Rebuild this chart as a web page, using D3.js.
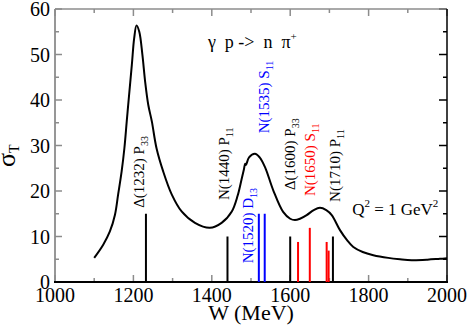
<!DOCTYPE html>
<html><head><meta charset="utf-8"><script src="https://cdn.jsdelivr.net/npm/d3@7"></script></head>
<body style="margin:0">
<script>
// total cross section curve, W in MeV and sigma_T
var curveW = [1100, 1123, 1140, 1153, 1161, 1170, 1177, 1183, 1189, 1196, 1202, 1208, 1215, 1223, 1230,
  1238, 1247, 1259, 1276, 1298, 1323, 1357, 1395, 1425, 1451, 1466, 1476, 1482, 1485, 1487, 1495,
  1510, 1522, 1536, 1557, 1582, 1600, 1612, 1625, 1642, 1660, 1676, 1692, 1706, 1727, 1745, 1761,
  1785, 1812, 1850, 1880, 1910, 1950, 1982, 2000];
var curveS = [5.3, 8.2, 11.1, 14.8, 19.2, 24.3, 29.4, 35.3, 41.1, 47.7, 53.6, 56.4, 55.0, 49.9, 44.0,
  38.9, 35.3, 29.4, 24.3, 19.2, 15.5, 13.0, 11.9, 13.0, 15.5, 19.0, 22.6, 24.8, 26.0, 25.7, 27.4,
  28.2, 27.4, 25.2, 20.1, 15.4, 13.9, 13.6, 13.9, 14.7, 15.8, 16.3, 15.8, 14.7, 11.4, 9.2, 7.7,
  6.6, 5.9, 5.3, 5.0, 4.8, 4.9, 5.1, 5.2];

// resonance strength bars
var barW = [1232, 1440, 1520, 1535, 1600, 1620, 1650, 1693, 1698, 1709];
var barH = [15, 10, 15, 15, 10, 8.8, 11.9, 8.8, 6.9, 10];
var barC = ["black", "black", "blue", "blue", "black", "red", "red", "red", "red", "black"];

// rotated resonance labels: name, subscript, anchor W, anchor sigma
var labName = ["\u0394(1232) P", "N(1440) P", "N(1520) D", "N(1535) S", "\u0394(1600) P", "N(1650) S", "N(1710) P"];
var labSub = ["33", "11", "13", "11", "33", "11", "11"];
var labW = [1228, 1444, 1505, 1546, 1612, 1663, 1727];
var labS = [16.3, 18, 4.1, 32.7, 20.2, 18.9, 17.6];
var labC = ["black", "black", "blue", "blue", "black", "red", "black"];

var xTicks = [1000, 1200, 1400, 1600, 1800, 2000];
var yTicks = [0, 10, 20, 30, 40, 50, 60];

var W = 469, H = 326;
var margin = {left: 55, right: 22, top: 9, bottom: 44};
var width = W - margin.left - margin.right,
    height = H - margin.top - margin.bottom;
var font = "'Liberation Serif'";

var x = d3.scaleLinear().domain([1000, 2000]).range([0, width]);
var y = d3.scaleLinear().domain([0, 60]).range([height, 0]);

var svg = d3.select("body").append("svg")
  .attr("width", W)
  .attr("height", H)
  .append("g")
  .attr("transform", "translate(" + margin.left + "," + margin.top + ")");

var grey = "#8c8c8c";
var xMinor = d3.range(1100, 2000, 200);
var yMinor = d3.range(5, 60, 10);

// axes: left/top grey, bottom/right black, ticks inward
function ticks(g, vals, len, side, col) {
  g.selectAll(null).data(vals).enter().append("line")
    .attr("x1", function (d) { return side == "b" || side == "t" ? x(d) : (side == "l" ? 0 : width); })
    .attr("x2", function (d) { return side == "b" || side == "t" ? x(d) : (side == "l" ? len : width - len); })
    .attr("y1", function (d) { return side == "l" || side == "r" ? y(d) : (side == "b" ? height : 0); })
    .attr("y2", function (d) { return side == "l" || side == "r" ? y(d) : (side == "b" ? height - len : len); })
    .attr("stroke", col)
    .attr("stroke-width", 1.5);
}
var ax = svg.append("g");
ticks(ax, xTicks, 7, "b", grey);
ticks(ax, xMinor, 4, "b", grey);
ticks(ax, xTicks, 7, "t", grey);
ticks(ax, xMinor, 4, "t", grey);
ticks(ax, yTicks, 7, "l", grey);
ticks(ax, yMinor, 4, "l", grey);
ticks(ax, yTicks, 8, "r", "black");
ticks(ax, yMinor, 4, "r", "black");

ax.append("line").attr("x1", 0).attr("x2", width).attr("y1", 0).attr("y2", 0)
  .attr("stroke", grey).attr("stroke-width", 1.5);
ax.append("line").attr("x1", 0).attr("x2", 0).attr("y1", 0).attr("y2", height)
  .attr("stroke", grey).attr("stroke-width", 1.8);
ax.append("line").attr("x1", width).attr("x2", width).attr("y1", 0).attr("y2", height)
  .attr("stroke", "black").attr("stroke-width", 1.5);
ax.append("line").attr("x1", -1).attr("x2", width + 1).attr("y1", height).attr("y2", height)
  .attr("stroke", "black").attr("stroke-width", 1.8);

// tick labels
svg.selectAll(".xl").data(xTicks).enter().append("text")
  .attr("class", "xl")
  .attr("x", function (d) { return x(d); })
  .attr("y", height + 20)
  .attr("text-anchor", "middle")
  .attr("font-family", font)
  .attr("font-size", 20)
  .text(function (d) { return d; });

svg.selectAll(".yl").data(yTicks).enter().append("text")
  .attr("class", "yl")
  .attr("x", -5)
  .attr("y", function (d) { return y(d) + 7; })
  .attr("text-anchor", "end")
  .attr("font-family", font)
  .attr("font-size", 20)
  .text(function (d) { return d; });

// bars
svg.selectAll(".bar").data(barW).enter().append("line")
  .attr("class", "bar")
  .attr("x1", function (d) { return x(d); })
  .attr("x2", function (d) { return x(d); })
  .attr("y1", y(0))
  .attr("y2", function (d, i) { return y(barH[i]); })
  .attr("stroke", function (d, i) { return barC[i]; })
  .attr("stroke-width", 2);

// curve
var pts = curveW.map(function (d, i) { return [d, curveS[i]]; });
var line = d3.line()
  .x(function (d) { return x(d[0]); })
  .y(function (d) { return y(d[1]); })
  .curve(d3.curveCatmullRom.alpha(0.5));
svg.append("path")
  .datum(pts)
  .attr("d", line)
  .attr("fill", "none")
  .attr("stroke", "black")
  .attr("stroke-width", 2);

// resonance labels
labName.forEach(function (n, i) {
  var t = svg.append("text")
    .attr("transform", "translate(" + x(labW[i]) + "," + y(labS[i]) + ") rotate(-90)")
    .attr("font-family", font)
    .attr("font-size", 15)
    .attr("fill", labC[i]);
  t.append("tspan").text(n);
  t.append("tspan").attr("dy", 4).attr("font-size", 10).text(labSub[i]);
});

// reaction title
var title = svg.append("text")
  .attr("x", x(1390))
  .attr("y", y(51.4))
  .attr("font-family", font)
  .attr("font-size", 18)
  .style("white-space", "pre");
title.append("tspan").text("\u03b3  p ->  n  \u03c0");
title.append("tspan").attr("dy", -8).attr("font-size", 11).text("+");

var q = svg.append("text")
  .attr("x", x(1758))
  .attr("y", y(14.8))
  .attr("font-family", font)
  .attr("font-size", 17)
  .style("white-space", "pre");
q.append("tspan").text("Q");
q.append("tspan").attr("dy", -8).attr("font-size", 11).text("2");
q.append("tspan").attr("dy", 8).text(" = 1 GeV");
q.append("tspan").attr("dy", -8).attr("font-size", 11).text("2");

// axis titles
svg.append("text")
  .attr("x", width / 2)
  .attr("y", height + 38)
  .attr("text-anchor", "middle")
  .attr("font-family", font)
  .attr("font-size", 22)
  .text("W (MeV)");

var yl = svg.append("text")
  .attr("transform", "translate(" + (15 - margin.left) + "," + (167 - margin.top) + ") rotate(-90)")
  .attr("font-family", font)
  .attr("font-size", 26);
yl.append("tspan").text("\u03c3");
yl.append("tspan").attr("dy", 4).attr("font-size", 14).text("T");
</script>
</body>
</html>
